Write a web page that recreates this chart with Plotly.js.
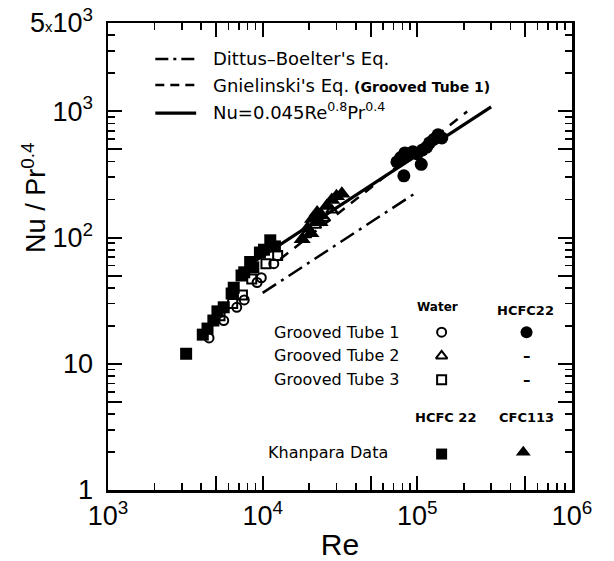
<!DOCTYPE html>
<html>
<head>
<meta charset="utf-8">
<script src="https://cdn.plot.ly/plotly-3.0.1.min.js"></script>
<style>html,body{margin:0;padding:0;background:#fff;}#chart{width:614px;height:561px;}</style>
</head>
<body>
<div id="chart"></div>
<script>
// ---- Data ----
// Correlation lines (Re, Nu/Pr^0.4)
const reDittus = [10000, 100000];
const nuDittus = [36.4, 230];
const reGnielinski = [13000, 20000, 40000, 100000, 210000];
const nuGnielinski = [67.5, 102, 200, 485, 995];
const reFit = [8000, 300000];
const nuFit = [59.7, 1083];

// Grooved Tube 1, HCFC22 (filled circles)
const reTube1HCFC22 = [73800, 78000, 81800, 83000, 88000, 93500, 100000, 106000, 108000, 115000, 120000, 128000, 136000, 144000];
const nuTube1HCFC22 = [397, 430, 308, 468, 455, 477, 460, 380, 494, 520, 562, 600, 650, 615];

// Khanpara data, CFC113 (filled triangles)
const reKhanCFC113 = [18000, 19500, 20500, 21000, 22500, 23500, 24000, 26000, 28000, 30000, 32500];
const nuKhanCFC113 = [97, 118, 108, 140, 158, 132, 150, 178, 198, 212, 222];

// Khanpara data, HCFC22 (filled squares)
const reKhanHCFC22 = [3200, 4100, 4400, 4800, 5100, 5600, 6300, 6500, 7300, 7600, 8300, 8700, 9600, 10200, 11200, 12000];
const nuKhanHCFC22 = [12, 17, 19, 22, 26, 28, 36, 40, 50, 53, 64, 58, 76, 80, 95, 85];

// Water, Grooved Tube 1 (open circles)
const reTube1Water = [4500, 5600, 6800, 7600, 9200, 9800, 11800];
const nuTube1Water = [16, 22, 28, 32, 44, 48, 62];

// Water, Grooved Tube 2 (open triangles)
const reTube2Water = [19000, 22000, 25000, 28000];
const nuTube2Water = [105, 125, 142, 165];

// Water, Grooved Tube 3 (open squares)
const reTube3Water = [5300, 6400, 7400, 8500, 10500, 12500];
const nuTube3Water = [24, 30, 35, 47, 62, 72];

// Tick labels
const xTickVals = [1e3, 5e3, 1e4, 5e4, 1e5, 5e5, 1e6];
const xTickText = ['10<sup>3</sup>', '', '10<sup>4</sup>', '', '10<sup>5</sup>', '', '10<sup>6</sup>'];
const xMinorVals = [2e3,3e3,4e3,6e3,7e3,8e3,9e3,2e4,3e4,4e4,6e4,7e4,8e4,9e4,2e5,3e5,4e5,6e5,7e5,8e5,9e5];
const yTickVals = [1, 5, 10, 50, 100, 500, 1000, 5000];
const yTickText = ['1', '', '10', '', '10<sup>2</sup>', '', '10<sup>3</sup>', '5<span style="font-size:15px">x</span>10<sup>3</sup>'];
const yMinorVals = [2,3,4,6,7,8,9,20,30,40,60,70,80,90,200,300,400,600,700,800,900,2000,3000,4000];

const FONT = 'Liberation Sans, Arial, sans-serif';
const LFONT = 'DejaVu Sans, sans-serif';
const BLK = '#000';

const traces = [
  {x: reDittus, y: nuDittus, mode: 'lines', line: {color: BLK, width: 2.5, dash: '16px,6px,3px,6px'}},
  {x: reGnielinski, y: nuGnielinski, mode: 'lines', line: {color: BLK, width: 2.5, dash: '10px,8px'}},
  {x: reFit, y: nuFit, mode: 'lines', line: {color: BLK, width: 3.2}},
  {x: reTube1Water, y: nuTube1Water, mode: 'markers', marker: {symbol: 'circle-open', size: 9, color: BLK, line: {width: 2}}},
  {x: reTube3Water, y: nuTube3Water, mode: 'markers', marker: {symbol: 'square-open', size: 9, color: BLK, line: {width: 2}}},
  {x: reKhanHCFC22, y: nuKhanHCFC22, mode: 'markers', marker: {symbol: 'square', size: 12, color: BLK}},
  {x: reKhanCFC113, y: nuKhanCFC113, mode: 'markers', marker: {symbol: 'triangle-up', size: 15, color: BLK}},
  {x: reTube2Water, y: nuTube2Water, mode: 'markers', marker: {symbol: 'triangle-up-open', size: 10, color: BLK, line: {width: 2}}},
  {x: reTube1HCFC22, y: nuTube1HCFC22, mode: 'markers', marker: {symbol: 'circle', size: 13, color: BLK}},
  // legend keys (overlay axes 0..1)
  {x: [0.719], y: [0.338], xaxis: 'x2', yaxis: 'y2', mode: 'markers', marker: {symbol: 'circle-open', size: 9, color: BLK, line: {width: 2}}},
  {x: [0.902], y: [0.338], xaxis: 'x2', yaxis: 'y2', mode: 'markers', marker: {symbol: 'circle', size: 12, color: BLK}},
  {x: [0.719], y: [0.287], xaxis: 'x2', yaxis: 'y2', mode: 'markers', marker: {symbol: 'triangle-up-open', size: 10, color: BLK, line: {width: 2}}},
  {x: [0.719], y: [0.236], xaxis: 'x2', yaxis: 'y2', mode: 'markers', marker: {symbol: 'square-open', size: 9, color: BLK, line: {width: 2}}},
  {x: [0.719], y: [0.077], xaxis: 'x2', yaxis: 'y2', mode: 'markers', marker: {symbol: 'square', size: 11, color: BLK}},
  {x: [0.895], y: [0.081], xaxis: 'x2', yaxis: 'y2', mode: 'markers', marker: {symbol: 'triangle-up', size: 13, color: BLK}}
];

function ann(text, x, y, size, anchor, extra) {
  return Object.assign({xref: 'paper', yref: 'paper', x: x, y: y, text: text, showarrow: false,
    xanchor: anchor || 'left', yanchor: 'middle', font: {family: LFONT, size: size, color: BLK}}, extra || {});
}

const annotations = [
  ann("Dittus\u2013Boelter's Eq.", 0.222, 0.923, 18),
  ann("Gnielinski's Eq.<span style='font-size:14px'><b> (Grooved Tube 1)</b></span>", 0.222, 0.867, 18),
  ann("Nu=0.045Re<sup>0.8</sup>Pr<sup>0.4</sup>", 0.222, 0.812, 18),
  ann('<b>Water</b>', 0.711, 0.392, 12, 'center'),
  ann('<b>HCFC22</b>', 0.899, 0.385, 13, 'center'),
  ann('Grooved Tube 1', 0.634, 0.338, 16, 'right'),
  ann('Grooved Tube 2', 0.634, 0.287, 16, 'right'),
  ann('Grooved Tube 3', 0.634, 0.236, 16, 'right'),
  ann('<b>\u2013</b>', 0.902, 0.287, 15, 'center'),
  ann('<b>\u2013</b>', 0.902, 0.236, 15, 'center'),
  ann('<b>HCFC 22</b>', 0.728, 0.156, 13, 'center'),
  ann('<b>CFC113</b>', 0.902, 0.156, 13, 'center'),
  ann('Khanpara Data', 0.608, 0.081, 16, 'right'),
  // y-axis title
  {xref: 'paper', yref: 'paper', x: -0.16, y: 0.625, text: 'Nu / Pr<sup>0.4</sup>', showarrow: false,
   textangle: -90, xanchor: 'center', yanchor: 'middle', font: {family: FONT, size: 27, color: BLK}}
];

function keyLine(y, dash, w) {
  return {type: 'line', xref: 'paper', yref: 'paper', x0: 0.102, x1: 0.19, y0: y, y1: y,
    line: {color: BLK, width: w, dash: dash}};
}
const shapes = [
  keyLine(0.923, '13px,5px,3px,5px', 2.5),
  keyLine(0.867, '9px,6px', 2.5),
  keyLine(0.807, 'solid', 3.2)
];

const axisCommon = {
  type: 'log', showgrid: false, zeroline: false, showline: true, linecolor: BLK, linewidth: 2.5,
  mirror: 'ticks', ticks: 'inside', ticklen: 14, tickwidth: 2, tickcolor: BLK, tickmode: 'array',
  tickfont: {family: FONT, size: 27, color: BLK},
  minor: {ticks: 'inside', ticklen: 7, tickwidth: 1.6, tickcolor: BLK, tickmode: 'array', showgrid: false}
};

const layout = {
  width: 614, height: 561,
  margin: {l: 107.5, r: 41.5, t: 23, b: 71, pad: 0},
  paper_bgcolor: '#fff', plot_bgcolor: '#fff',
  showlegend: false,
  xaxis: Object.assign({}, axisCommon, {
    range: [3, 6], tickvals: xTickVals, ticktext: xTickText,
    minor: Object.assign({}, axisCommon.minor, {tickvals: xMinorVals}),
    title: {text: 'Re', font: {family: FONT, size: 30, color: BLK}, standoff: 6}
  }),
  yaxis: Object.assign({}, axisCommon, {
    range: [0, Math.log10(5000)], tickvals: yTickVals, ticktext: yTickText,
    ticklabelstandoff: 7,
    minor: Object.assign({}, axisCommon.minor, {tickvals: yMinorVals})
  }),
  xaxis2: {overlaying: 'x', range: [0, 1], visible: false, anchor: 'y2', fixedrange: true},
  yaxis2: {overlaying: 'y', range: [0, 1], visible: false, anchor: 'x2', fixedrange: true},
  annotations: annotations,
  shapes: shapes
};

Plotly.newPlot('chart', traces, layout, {displayModeBar: false, staticPlot: true});
</script>
</body>
</html>
